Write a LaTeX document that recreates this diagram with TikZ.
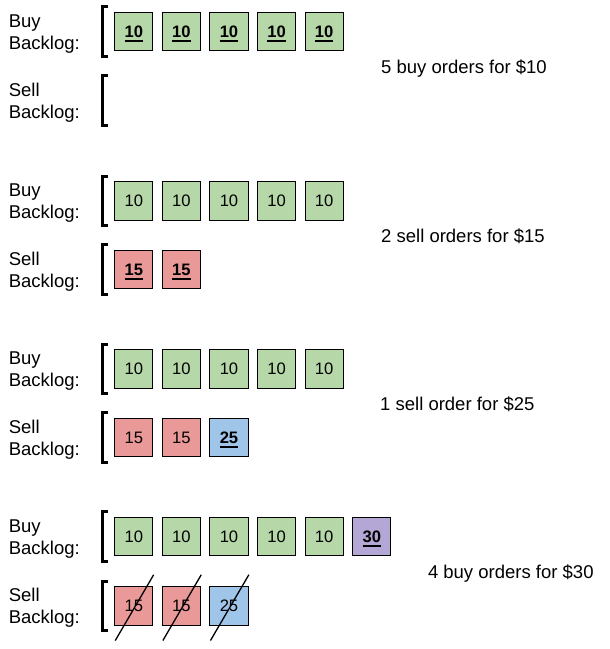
\documentclass[tikz,border=0pt]{standalone}
\usepackage{fontspec}
\setmainfont{Liberation Sans}
\usetikzlibrary{calc}
\definecolor{gbox}{HTML}{B6D7A8}
\definecolor{rbox}{HTML}{EA9999}
\definecolor{bbox}{HTML}{9FC5E8}
\definecolor{pbox}{HTML}{B4A7D6}
\newcommand{\bnum}[1]{\setbox0\hbox{\bfseries #1}\rlap{\rule[-4pt]{\wd0}{1.8pt}}\box0}
\begin{document}
\begin{tikzpicture}[x=1pt,y=-1pt,
  ord/.style={draw=black, line width=0.9pt, minimum width=38.2pt, minimum height=38.2pt, inner sep=0pt, font=\fontsize{16.6}{19}\selectfont, text depth=0pt},
  buyo/.style={ord, fill=gbox},
  sello/.style={ord, fill=rbox},
  sellb/.style={ord, fill=bbox},
  buyp/.style={ord, fill=pbox},
  lbl/.style={anchor=base west, inner sep=0pt, font=\fontsize{18.5}{21}\selectfont},
  brk/.style={line width=3pt, line cap=butt, line join=miter},
  strike/.style={line width=1.3pt}]
\useasboundingbox (0,0) rectangle (610,649);

% ---------- panel 1 ----------
\def\T{12.3}
\def\S{81.1}
\node[lbl] (p1la) at (8.6,\T+15) {Buy};
\node[lbl] (p1lb) at (8.6,\T+37) {Backlog:};
\node[lbl] (p1lc) at (8.6,\S+15) {Sell};
\node[lbl] (p1ld) at (8.6,\S+37) {Backlog:};
\draw[brk] (108.3,\T-5.5) -- (102.7,\T-5.5) -- (102.7,\T+44) -- (108.3,\T+44);
\draw[brk] (108.3,\S-5.5) -- (102.7,\S-5.5) -- (102.7,\S+44) -- (108.3,\S+44);
\foreach \i in {0,...,4}
  \node[buyo] (p1b\i) at (133.8+47.6*\i,\T+19.5) {\bnum{10}};
\node[lbl] (p1t) at (381,\T+61) {5 buy orders for \$10};

% ---------- panel 2 ----------
\def\T{181.5}
\def\S{250.3}
\node[lbl] (p2la) at (8.6,\T+15) {Buy};
\node[lbl] (p2lb) at (8.6,\T+37) {Backlog:};
\node[lbl] (p2lc) at (8.6,\S+15) {Sell};
\node[lbl] (p2ld) at (8.6,\S+37) {Backlog:};
\draw[brk] (108.3,\T-5.5) -- (102.7,\T-5.5) -- (102.7,\T+44) -- (108.3,\T+44);
\draw[brk] (108.3,\S-5.5) -- (102.7,\S-5.5) -- (102.7,\S+44) -- (108.3,\S+44);
\foreach \i in {0,...,4}
  \node[buyo] (p2b\i) at (133.8+47.6*\i,\T+19.5) {10};
\node[sello] (p2s0) at (133.8,\S+19.5) {\bnum{15}};
\node[sello] (p2s1) at (181.4,\S+19.5) {\bnum{15}};
\node[lbl] (p2t) at (381,\T+61) {2 sell orders for \$15};

% ---------- panel 3 ----------
\def\T{349.5}
\def\S{418.3}
\node[lbl] (p3la) at (8.6,\T+15) {Buy};
\node[lbl] (p3lb) at (8.6,\T+37) {Backlog:};
\node[lbl] (p3lc) at (8.6,\S+15) {Sell};
\node[lbl] (p3ld) at (8.6,\S+37) {Backlog:};
\draw[brk] (108.3,\T-5.5) -- (102.7,\T-5.5) -- (102.7,\T+44) -- (108.3,\T+44);
\draw[brk] (108.3,\S-5.5) -- (102.7,\S-5.5) -- (102.7,\S+44) -- (108.3,\S+44);
\foreach \i in {0,...,4}
  \node[buyo] (p3b\i) at (133.8+47.6*\i,\T+19.5) {10};
\node[sello] (p3s0) at (133.8,\S+19.5) {15};
\node[sello] (p3s1) at (181.4,\S+19.5) {15};
\node[sellb] (p3s2) at (229.0,\S+19.5) {\bnum{25}};
\node[lbl] (p3t) at (380,\T+61) {1 sell order for \$25};

% ---------- panel 4 ----------
\def\T{517.3}
\def\S{586.5}
\node[lbl] (p4la) at (8.6,\T+15) {Buy};
\node[lbl] (p4lb) at (8.6,\T+37) {Backlog:};
\node[lbl] (p4lc) at (8.6,\S+15) {Sell};
\node[lbl] (p4ld) at (8.6,\S+37) {Backlog:};
\draw[brk] (108.3,\T-5.5) -- (102.7,\T-5.5) -- (102.7,\T+44) -- (108.3,\T+44);
\draw[brk] (108.3,\S-5.5) -- (102.7,\S-5.5) -- (102.7,\S+44) -- (108.3,\S+44);
\foreach \i in {0,...,4}
  \node[buyo] (p4b\i) at (133.8+47.6*\i,\T+19.5) {10};
\node[buyp] (p4b5) at (371.8,\T+19.5) {\bnum{30}};
\node[sello] (p4s0) at (133.8,\S+19.5) {15};
\node[sello] (p4s1) at (181.4,\S+19.5) {15};
\node[sellb] (p4s2) at (229.0,\S+19.5) {25};
\foreach \n in {p4s0,p4s1,p4s2}
  \draw[strike] ($(\n.south west)+(1,15)$) -- ($(\n.north east)+(0.3,-11.7)$);
\node[lbl] (p4t) at (427.8,\T+61) {4 buy orders for \$30};
\end{tikzpicture}
\end{document}
